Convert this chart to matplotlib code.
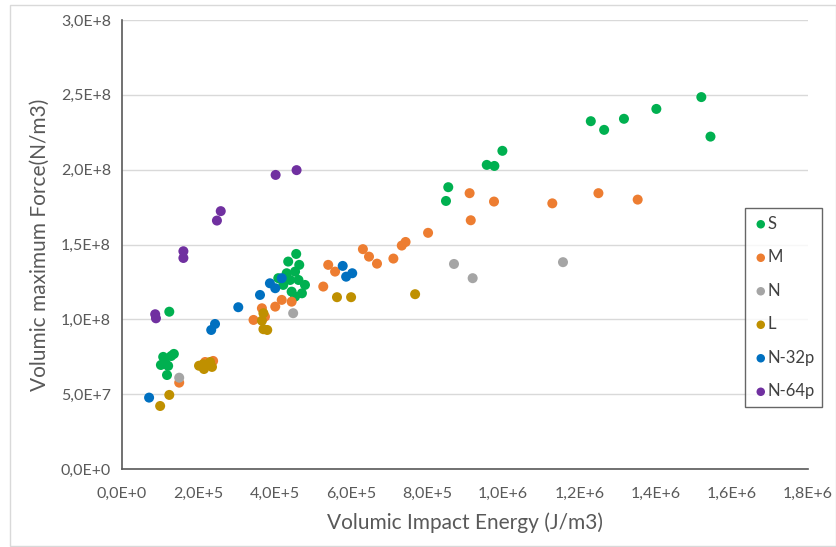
import matplotlib
matplotlib.use('Agg')
import matplotlib.pyplot as plt
from matplotlib.ticker import FuncFormatter, MultipleLocator
from matplotlib.patches import Rectangle

##-------------------------------------------------------------
# data: x in J/m3, y in N/m3
S_x = [1.24e5, 1.08e5, 1.29e5, 1.36e5, 1.02e5, 1.21e5, 1.18e5, 1.13e5,
       4.57e5, 4.36e5, 4.65e5, 4.54e5, 4.32e5, 4.41e5, 4.63e5, 4.80e5,
       4.72e5, 4.45e5, 4.54e5, 4.10e5, 4.23e5,
       8.50e5, 8.56e5, 9.57e5, 9.77e5, 9.98e5,
       1.230e6, 1.265e6, 1.317e6, 1.402e6, 1.520e6, 1.544e6]
S_y = [1.051e8, 7.49e7, 7.55e7, 7.69e7, 6.95e7, 6.89e7, 6.28e7, 7.15e7,
       1.437e8, 1.386e8, 1.364e8, 1.319e8, 1.308e8, 1.263e8, 1.263e8, 1.230e8,
       1.174e8, 1.185e8, 1.152e8, 1.275e8, 1.230e8,
       1.791e8, 1.883e8, 2.032e8, 2.025e8, 2.126e8,
       2.324e8, 2.266e8, 2.340e8, 2.406e8, 2.485e8, 2.221e8]

M_x = [1.50e5, 2.18e5, 2.39e5, 4.19e5, 4.45e5, 4.02e5, 3.67e5, 3.45e5, 3.75e5,
       5.28e5, 5.41e5, 5.59e5, 6.32e5, 6.48e5, 6.69e5, 7.12e5, 7.34e5, 7.44e5,
       8.03e5, 9.15e5, 9.12e5, 9.76e5, 1.129e6, 1.250e6, 1.353e6]
M_y = [5.77e7, 7.15e7, 7.22e7, 1.130e8, 1.118e8, 1.085e8, 1.074e8, 9.96e7, 1.018e8,
       1.219e8, 1.364e8, 1.319e8, 1.469e8, 1.419e8, 1.372e8, 1.406e8, 1.493e8, 1.517e8,
       1.578e8, 1.662e8, 1.843e8, 1.787e8, 1.775e8, 1.843e8, 1.800e8]

N_x = [1.50e5, 4.49e5, 8.71e5, 9.20e5, 1.157e6]
N_y = [6.10e7, 1.041e8, 1.370e8, 1.275e8, 1.382e8]

L_x = [1.00e5, 1.24e5, 2.13e5, 2.31e5, 2.15e5, 2.36e5, 2.02e5,
       3.71e5, 3.67e5, 3.71e5, 3.81e5, 5.64e5, 6.01e5, 7.69e5]
L_y = [4.21e7, 4.95e7, 7.00e7, 7.15e7, 6.68e7, 6.82e7, 6.90e7,
       1.041e8, 9.91e7, 9.34e7, 9.29e7, 1.148e8, 1.148e8, 1.168e8]

N32_x = [0.71e5, 2.34e5, 2.44e5, 3.05e5, 3.62e5, 3.88e5, 4.02e5, 4.19e5,
         5.79e5, 5.88e5, 6.04e5]
N32_y = [4.77e7, 9.29e7, 9.69e7, 1.081e8, 1.163e8, 1.241e8, 1.208e8, 1.275e8,
         1.357e8, 1.285e8, 1.308e8]

N64_x = [0.87e5, 0.89e5, 1.61e5, 1.61e5, 2.49e5, 2.59e5, 4.03e5, 4.58e5]
N64_y = [1.034e8, 1.007e8, 1.455e8, 1.410e8, 1.660e8, 1.723e8, 1.965e8, 1.997e8]

series = [('S', S_x, S_y, '#00B050'),
          ('M', M_x, M_y, '#ED7D31'),
          ('N', N_x, N_y, '#A5A5A5'),
          ('L', L_x, L_y, '#BF9000'),
          ('N-32p', N32_x, N32_y, '#0070C0'),
          ('N-64p', N64_x, N64_y, '#7030A0')]
##-------------------------------------------------------------

def sci_comma(v, pos):
    s = '%.1E' % v
    mant, ex = s.split('E')
    ex = int(ex)
    sign = '+' if ex >= 0 else '-'
    return mant.replace('.', ',') + 'E' + sign + str(abs(ex))

plt.rcParams['font.family'] = ['Lato', 'DejaVu Sans']

fig = plt.figure(figsize=(8.37, 5.47), dpi=100)
ax = fig.add_axes([0.1458, 0.1426, 0.8196, 0.8208])

for name, x, y, c in series:
    ax.scatter(x, y, s=52, color=c, label=name, edgecolors='none', zorder=3)

ax.set_xlim(0, 1.8e6)
ax.set_ylim(0, 3.0e8)
ax.xaxis.set_major_locator(MultipleLocator(2e5))
ax.yaxis.set_major_locator(MultipleLocator(5e7))
ax.xaxis.set_major_formatter(FuncFormatter(sci_comma))
ax.yaxis.set_major_formatter(FuncFormatter(sci_comma))
ax.tick_params(length=0, labelsize=11.5, colors='#595959')
ax.tick_params(axis='x', pad=13)
ax.tick_params(axis='y', pad=8)
ax.yaxis.grid(True, color='#D9D9D9', linewidth=1)
ax.set_axisbelow(True)
for sp in ['top', 'right']:
    ax.spines[sp].set_visible(False)
for sp in ['left', 'bottom']:
    ax.spines[sp].set_color('#595959')
    ax.spines[sp].set_linewidth(1.2)

ax.set_xlabel('Volumic Impact Energy (J/m3)', fontsize=15, color='#595959', labelpad=8)
ax.set_ylabel('Volumic maximum Force(N/m3)', fontsize=15, color='#595959', labelpad=8)

leg = ax.legend(loc='upper left', bbox_to_anchor=(0.908, 0.581), borderaxespad=0,
                fontsize=12, frameon=True, fancybox=False, edgecolor='#404040',
                markerscale=0.85, handletextpad=-0.1, labelspacing=1.05,
                borderpad=0.45, handlelength=1.0, labelcolor='#404040')
leg.get_frame().set_linewidth(1.0)

# outer chart border
fig.patches.append(Rectangle((10 / 837, 0.002), 826 / 837, 1 - 5 / 547 - 0.002,
                             transform=fig.transFigure, fill=False,
                             edgecolor='#D9D9D9', linewidth=1))

plt.savefig('out.png', dpi=100)
